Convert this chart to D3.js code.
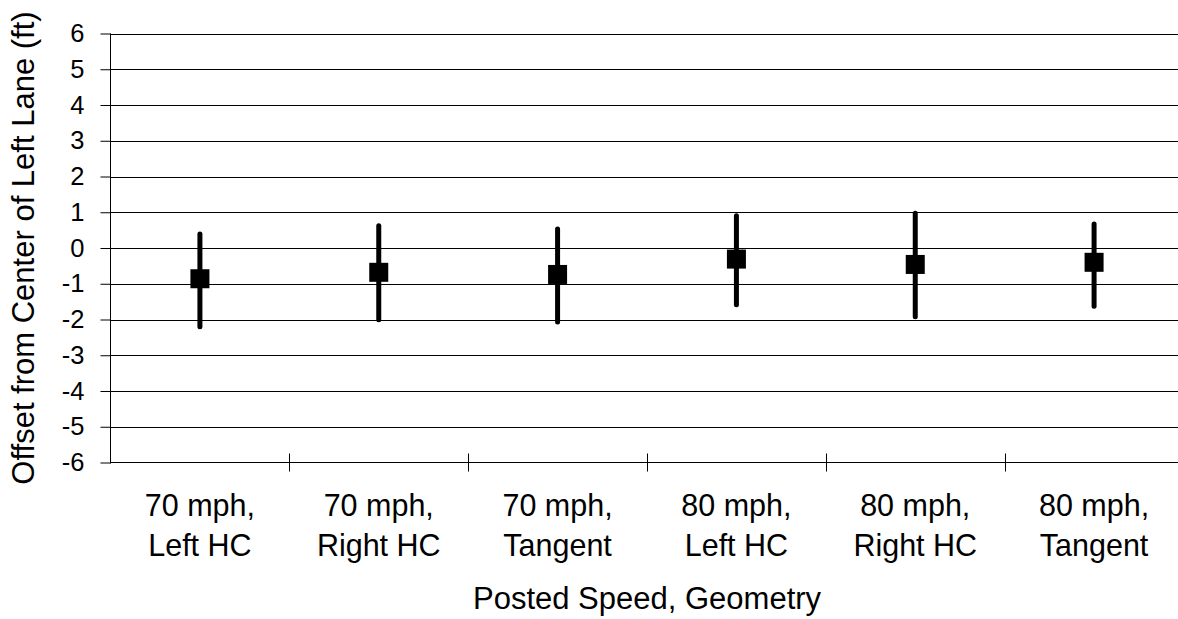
<!DOCTYPE html>
<html>
<head>
<meta charset="utf-8">
<script src="https://cdn.jsdelivr.net/npm/d3@7"></script>
<style>
  html, body { margin: 0; padding: 0; background: #fff; }
  svg { display: block; }
  text { font-family: "Liberation Sans", Arial, sans-serif; fill: #000; }
</style>
</head>
<body>
<svg id="chart" width="1178" height="619"></svg>
<script>
const categories = [
  ["70 mph,", "Left HC"],
  ["70 mph,", "Right HC"],
  ["70 mph,", "Tangent"],
  ["80 mph,", "Left HC"],
  ["80 mph,", "Right HC"],
  ["80 mph,", "Tangent"]
];
const meanValues = [-0.86, -0.68, -0.74, -0.31, -0.46, -0.40];
const upperValues = [0.39, 0.62, 0.53, 0.90, 0.97, 0.67];
const lowerValues = [-2.20, -2.01, -2.07, -1.59, -1.92, -1.63];
const yTicks = [-6, -5, -4, -3, -2, -1, 0, 1, 2, 3, 4, 5, 6];
const xTitle = "Posted Speed, Geometry";
const yTitle = "Offset from Center of Left Lane (ft)";

const svg = d3.select("#chart");
const mLeft = 110.5, mRight = 1183.5, mTop = 33.5, mBottom = 462.5;

const x = d3.scaleBand().domain(d3.range(categories.length)).range([mLeft, mRight]).padding(0);
const y = d3.scaleLinear().domain([-6, 6]).range([mBottom, mTop]);

// gridlines
svg.append("g").selectAll("line").data(yTicks.filter(d => d !== -6)).join("line")
  .attr("x1", mLeft).attr("x2", mRight)
  .attr("y1", d => Math.round(y(d)) + 0.5).attr("y2", d => Math.round(y(d)) + 0.5)
  .attr("stroke", "#000").attr("stroke-width", 1);

// y axis
const yAxis = d3.axisLeft(y).tickValues(yTicks).tickSize(10).tickPadding(16).tickFormat(d => String(d));
const gy = svg.append("g").attr("transform", `translate(${mLeft},0)`).call(yAxis);
gy.select(".domain").attr("stroke", "#000").attr("d", `M0,${mTop}V${mBottom + 1}`);
gy.selectAll(".tick line").attr("stroke", "#000");
gy.selectAll(".tick text").attr("font-size", 25.5).attr("font-family", "Liberation Sans, Arial, sans-serif").attr("fill", "#000");

// x axis line
svg.append("line").attr("x1", mLeft).attr("x2", mRight).attr("y1", mBottom).attr("y2", mBottom)
  .attr("stroke", "#000").attr("stroke-width", 1);
// category boundary ticks
svg.append("g").selectAll("line").data(d3.range(1, categories.length)).join("line")
  .attr("x1", d => Math.round(x(d)) + 0.5).attr("x2", d => Math.round(x(d)) + 0.5)
  .attr("y1", mBottom - 9).attr("y2", mBottom + 9)
  .attr("stroke", "#000");

// category labels
const lab = svg.append("g").selectAll("text").data(categories).join("text")
  .attr("text-anchor", "middle").attr("font-size", 30.5)
  .attr("x", (d, i) => x(i) + x.bandwidth() / 2);
lab.selectAll("tspan").data(d => d).join("tspan")
  .attr("x", function() { return d3.select(this.parentNode).attr("x"); })
  .attr("y", (d, j) => 516 + j * 40)
  .text(d => d);

// error bars
svg.append("g").selectAll("line").data(meanValues).join("line")
  .attr("x1", (d, i) => x(i) + x.bandwidth() / 2).attr("x2", (d, i) => x(i) + x.bandwidth() / 2)
  .attr("y1", (d, i) => y(upperValues[i])).attr("y2", (d, i) => y(lowerValues[i]))
  .attr("stroke", "#000").attr("stroke-width", 5).attr("stroke-linecap", "round");

// markers
const ms = 19;
svg.append("g").selectAll("rect").data(meanValues).join("rect")
  .attr("x", (d, i) => x(i) + x.bandwidth() / 2 - ms / 2)
  .attr("y", d => y(d) - ms / 2)
  .attr("width", ms).attr("height", ms).attr("fill", "#000");

// titles
svg.append("text").attr("x", 473).attr("y", 609).attr("text-anchor", "start")
  .attr("font-size", 31).text(xTitle);
svg.append("text").attr("transform", `translate(33.5,${(mTop + mBottom) / 2}) rotate(-90)`)
  .attr("text-anchor", "middle").attr("font-size", 31).text(yTitle);
</script>
</body>
</html>
